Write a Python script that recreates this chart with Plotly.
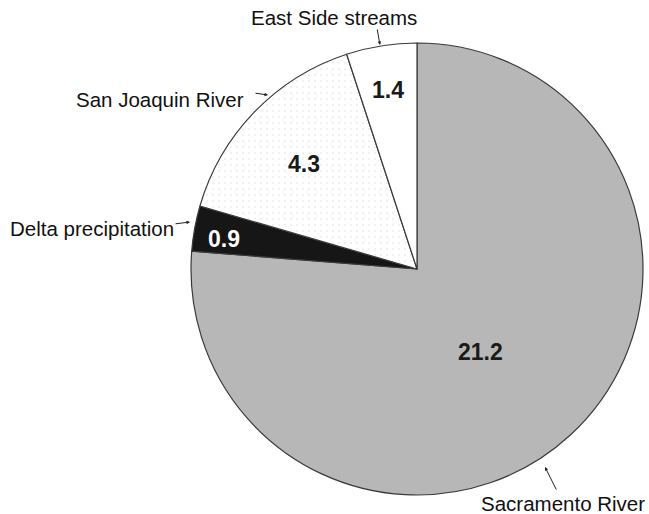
import plotly.graph_objects as go

W, H = 649, 514

sources = ["Sacramento River", "Delta precipitation", "San Joaquin River", "East Side streams"]
flows = [21.2, 0.9, 4.3, 1.4]

slice_colors = ["#b7b7b7", "#161616", "#f8f8f8", "#ffffff"]
value_colors = ["#1a1a1a", "#ffffff", "#1a1a1a", "#1a1a1a"]
# pixel positions of the value labels and source labels (layout only)
value_pos = [(480, 352), (224, 239), (304, 164), (388, 90)]
name_pos = [(563, 503), (92, 229), (160, 100), (334, 18)]
# arrow (tail -> head) pixel positions
arrows = [((557, 491), (545, 467)), ((174, 224), (190, 222)),
          ((254, 93), (268, 95)), ((377, 28), (380, 45))]

cx, cy, r = 417, 269, 226

def px(x):
    return x / W

def py(y):
    return 1 - y / H

fig = go.Figure(go.Pie(
    labels=sources,
    values=flows,
    sort=False,
    direction="clockwise",
    rotation=0,
    textinfo="none",
    hoverinfo="label+value",
    marker=dict(colors=slice_colors,
                line=dict(color="#3a3a3a", width=1.2),
                pattern=dict(shape=["", "", ".", ""], fgcolor="#dcdcdc",
                             size=6, solidity=0.05)),
    domain=dict(x=[px(cx - r), px(cx + r)], y=[py(cy + r), py(cy - r)]),
    showlegend=False,
))

ann = []
for v, c, (x, y) in zip(flows, value_colors, value_pos):
    ann.append(dict(x=px(x), y=py(y), xref="paper", yref="paper", text=f"<b>{v}</b>",
                    xanchor="center", yanchor="middle", showarrow=False,
                    font=dict(family="Liberation Sans, Arial", size=23, color=c)))
for name, (x, y) in zip(sources, name_pos):
    ann.append(dict(x=px(x), y=py(y), xref="paper", yref="paper", text=name,
                    xanchor="center", yanchor="middle", showarrow=False,
                    font=dict(family="Liberation Sans, Arial", size=20.5, color="#111111")))
for (t, h) in arrows:
    ann.append(dict(x=px(h[0]), y=py(h[1]), xref="paper", yref="paper", text="",
                    showarrow=True, ax=t[0] - h[0], ay=t[1] - h[1], axref="pixel", ayref="pixel",
                    arrowhead=2, arrowsize=0.7, arrowwidth=1, arrowcolor="#222222"))

fig.update_layout(
    width=W, height=H,
    margin=dict(l=0, r=0, t=0, b=0),
    paper_bgcolor="white", plot_bgcolor="white",
    annotations=ann,
)

fig.write_html("out.html", config={"displayModeBar": False},
               post_script="document.body.style.margin='0px';document.body.style.overflow='hidden';")
